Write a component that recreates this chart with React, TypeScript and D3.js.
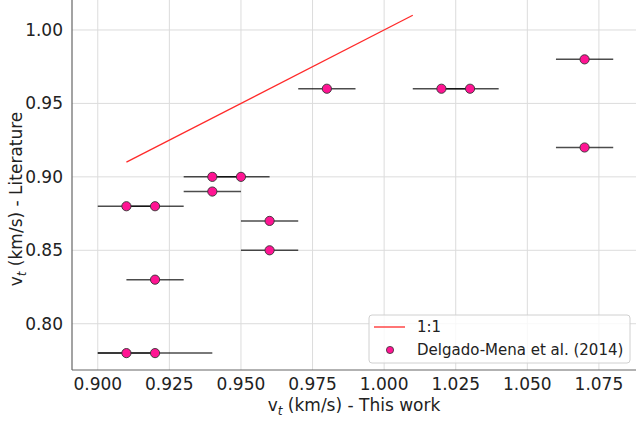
import React from "react";
import * as d3 from "d3";

// Microturbulence comparison: this work (x, with error) vs. literature (y)
const thisWork = [0.98, 1.02, 1.03, 1.07, 1.07, 0.94, 0.95, 0.94, 0.91, 0.92, 0.96, 0.96, 0.92, 0.91, 0.92];
const thisWorkErr = [0.01, 0.01, 0.01, 0.01, 0.01, 0.01, 0.01, 0.01, 0.01, 0.01, 0.01, 0.01, 0.01, 0.01, 0.02];
const literature = [0.96, 0.96, 0.96, 0.98, 0.92, 0.90, 0.90, 0.89, 0.88, 0.88, 0.87, 0.85, 0.83, 0.78, 0.78];
const oneToOne = [0.91, 1.01];
const xTicks = [0.9, 0.925, 0.95, 0.975, 1.0, 1.025, 1.05, 1.075];
const yTicks = [0.8, 0.85, 0.9, 0.95, 1.0];

const W = 636;
const H = 422;
const FONT = "DejaVu Sans, sans-serif";

export default function App() {
  const x = d3.scaleLinear().domain([0.891, 1.089]).range([72, 639]);
  const y = d3.scaleLinear().domain([0.7685, 1.0215]).range([370, -1.6]);
  const line = d3
    .line<number>()
    .x((d) => x(d))
    .y((d) => y(d));

  return (
    <svg
      width={W}
      height={H}
      style={{ position: "absolute", left: 0, top: 0, background: "#fff" }}
      fontFamily={FONT}
    >
      {/* grid */}
      {xTicks.map((t) => (
        <line key={"gx" + t} x1={x(t)} x2={x(t)} y1={0} y2={370} stroke="#dcdcdc" strokeWidth={1} />
      ))}
      {yTicks.map((t) => (
        <line key={"gy" + t} x1={72} x2={W} y1={y(t)} y2={y(t)} stroke="#dcdcdc" strokeWidth={1} />
      ))}

      {/* error bars */}
      {thisWork.map((v, i) => (
        <line
          key={"e" + i}
          x1={x(v - thisWorkErr[i])}
          x2={x(v + thisWorkErr[i])}
          y1={y(literature[i])}
          y2={y(literature[i])}
          stroke="#000"
          strokeOpacity={0.7}
          strokeWidth={1.5}
        />
      ))}

      {/* 1:1 line */}
      <path d={line(oneToOne) || ""} stroke="#ff2a2a" strokeWidth={1.3} fill="none" />

      {/* points */}
      {thisWork.map((v, i) => (
        <circle
          key={"p" + i}
          cx={x(v)}
          cy={y(literature[i])}
          r={4.6}
          fill="#ff1493"
          stroke="#333"
          strokeWidth={0.9}
        />
      ))}

      {/* spines */}
      <line x1={72} x2={72} y1={0} y2={370} stroke="#666" strokeWidth={1.2} />
      <line x1={72} x2={W} y1={370} y2={370} stroke="#666" strokeWidth={1.2} />

      {/* tick labels */}
      {xTicks.map((t) => (
        <text key={"tx" + t} x={x(t)} y={390} fontSize={17} textAnchor="middle" fill="#222">
          {d3.format(".3f")(t)}
        </text>
      ))}
      {yTicks.map((t) => (
        <text key={"ty" + t} x={63} y={y(t)} dy="0.35em" fontSize={17} textAnchor="end" fill="#222">
          {d3.format(".2f")(t)}
        </text>
      ))}

      {/* axis labels */}
      <text x={354} y={411} fontSize={17} textAnchor="middle" fill="#222">
        v<tspan fontSize={12} fontStyle="italic" dy={4}>t</tspan>
        <tspan dy={-4}> (km/s) - This work</tspan>
      </text>
      <text
        transform="translate(22,199) rotate(-90)"
        fontSize={17}
        textAnchor="middle"
        fill="#222"
      >
        v<tspan fontSize={12} fontStyle="italic" dy={4}>t</tspan>
        <tspan dy={-4}> (km/s) - Literature</tspan>
      </text>

      {/* legend */}
      <g>
        <rect x={369} y={315} width={261} height={48} rx={3} fill="#fff" fillOpacity={0.8} stroke="#d0d0d0" />
        <line x1={374} x2={405} y1={327} y2={327} stroke="#ff2a2a" strokeWidth={1.3} />
        <text x={417} y={327} dy="0.35em" fontSize={15} fill="#222">1:1</text>
        <circle cx={390} cy={350} r={3.6} fill="#ff1493" stroke="#333" strokeWidth={0.8} />
        <text x={417} y={350} dy="0.35em" fontSize={15} fill="#222">Delgado-Mena et al. (2014)</text>
      </g>
    </svg>
  );
}
